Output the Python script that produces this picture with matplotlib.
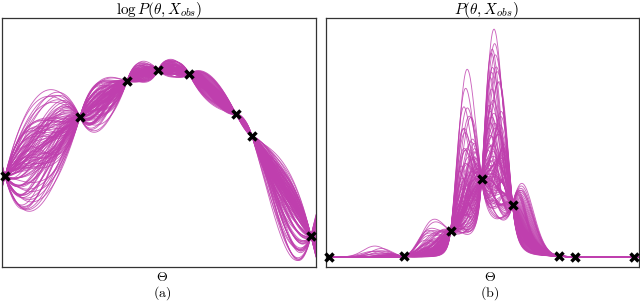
import numpy as np
import matplotlib
matplotlib.use("Agg")
import matplotlib.pyplot as plt

plt.rcParams["mathtext.fontset"] = "cm"

# ---- data ----
obs_x = [0.0096, 0.248, 0.398, 0.497, 0.596, 0.745, 0.796, 0.984]
obs_logp = [-10.6, -4.7, -1.1, 0.0, -0.4, -4.4, -6.6, -16.6]
# spread of the sample curves' slopes at each observation (relative to mean slope)
slope_lo = [-150, -100, -30, -40, -50, -30, -60, -80]
slope_hi = [105, 90, 80, 65, 45, 45, 40, 190]
n_samples = 100
order_mult = [0.6180, 0.4142, 0.7321, 0.2361, 0.1416, 0.7183, 0.3028, 0.5616]

titles = [r"$\log P(\theta, X_{obs})$", r"$P(\theta, X_{obs})$"]
sublabels = ["(a)", "(b)"]

color = "#bf3fae"

xo = np.array(obs_x)
fo = np.array(obs_logp)
sec = np.diff(fo) / np.diff(xo)
base = np.empty_like(fo)
base[0] = sec[0]
base[-1] = sec[-1]
base[1:-1] = 0.5 * (sec[:-1] + sec[1:])


def hermite(x, xk, fk, sk):
    y = np.empty_like(x)
    for i, xv in enumerate(x):
        if xv <= xk[0]:
            y[i] = fk[0] + sk[0] * (xv - xk[0])
            continue
        if xv >= xk[-1]:
            y[i] = fk[-1] + sk[-1] * (xv - xk[-1])
            continue
        j = np.searchsorted(xk, xv) - 1
        h = xk[j + 1] - xk[j]
        t = (xv - xk[j]) / h
        h00 = 2 * t**3 - 3 * t**2 + 1
        h10 = t**3 - 2 * t**2 + t
        h01 = -2 * t**3 + 3 * t**2
        h11 = t**3 - t**2
        y[i] = h00 * fk[j] + h10 * h * sk[j] + h01 * fk[j + 1] + h11 * h * sk[j + 1]
    return y


xs = np.linspace(0, 1, 500)
u = (np.arange(n_samples) + 0.5) / n_samples * 2 - 1
w = np.sign(u) * np.abs(u) ** 1.5

# ordering of the spread values for each node (a fixed, non-random shuffle)
orders = []
for k in range(len(fo)):
    key = (np.arange(n_samples) * order_mult[k] + 0.37 * k) % 1.0
    orders.append(np.argsort(np.argsort(key)))

curves = []
for i in range(n_samples):
    s = np.empty_like(fo)
    for k in range(len(fo)):
        wk = w[orders[k][i]]
        dev = wk * slope_hi[k] if wk >= 0 else -wk * slope_lo[k]
        s[k] = base[k] + dev
    curves.append(hermite(xs, xo, fo, s))

W, H = 640, 304
fig = plt.figure(figsize=(W / 100, H / 100), dpi=100)
ax1 = fig.add_axes([2 / W, 37 / H, 314 / W, 249 / H])
ax2 = fig.add_axes([326 / W, 37 / H, 313 / W, 249 / H])

for c in curves:
    ax1.plot(xs, c, color=color, lw=0.65, alpha=0.8)
    ax2.plot(xs, np.exp(c), color=color, lw=0.65, alpha=0.8)

ax1.plot(xo, fo, "x", color="k", ms=6, mew=2.5, zorder=5, clip_on=False)
ax2.plot(xo, np.exp(fo), "x", color="k", ms=6, mew=2.5, zorder=5, clip_on=False)

ax1.set_xlim(0, 1)
ax1.set_ylim(-19.7, 5.2)
ax2.set_xlim(0, 1)
ax2.set_ylim(-0.128, 3.064)

for ax in (ax1, ax2):
    ax.set_xticks([])
    ax.set_yticks([])
    for sp in ax.spines.values():
        sp.set_color("#333333")
        sp.set_linewidth(0.9)

centers = [159, 486]
theta_x = [162, 490]
for k in range(2):
    fig.text(centers[k] / W, 1 - 10 / H, titles[k], ha="center", va="center", fontsize=11)
    fig.text(theta_x[k] / W, 1 - 277 / H, r"$\Theta$", ha="center", va="center", fontsize=10)
    fig.text(theta_x[k] / W, 1 - 293 / H, r"$\mathrm{" + sublabels[k] + "}$",
             ha="center", va="center", fontsize=10)

fig.savefig("out.png", dpi=100)
